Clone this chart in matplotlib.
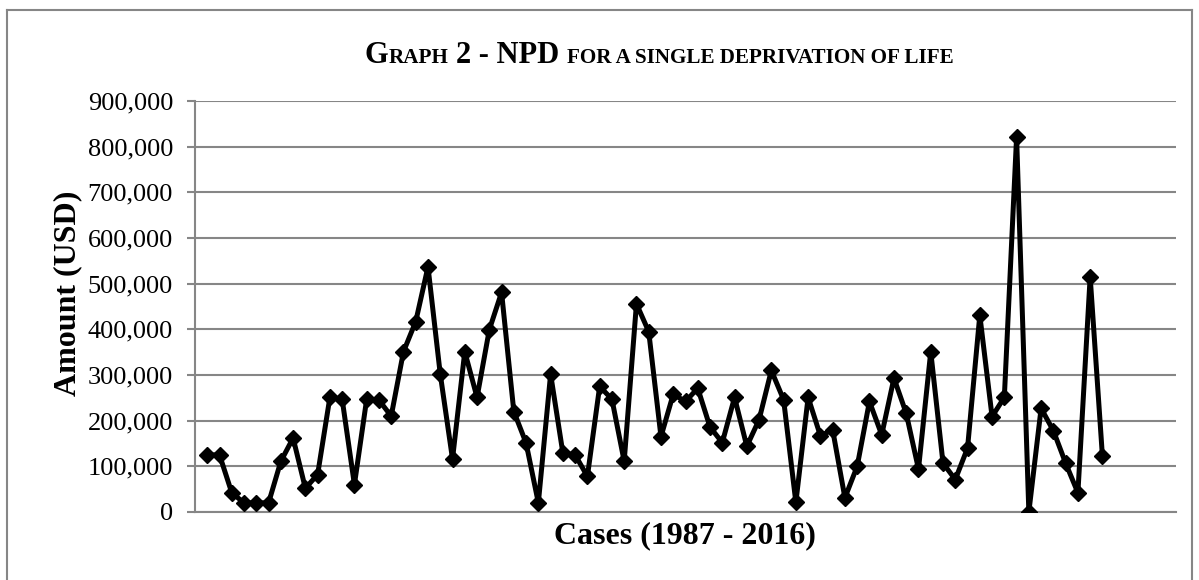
import numpy as np
import matplotlib
matplotlib.use("Agg")
import matplotlib.pyplot as plt
from matplotlib.ticker import FuncFormatter
from matplotlib.lines import Line2D

# datos (USD por caso)
montos = [125000, 125000, 42000, 20000, 20000, 20000, 111000, 162000, 52000, 82000,
          251000, 247000, 60000, 247000, 245000, 210000, 351000, 417000, 537000, 302000,
          116000, 351000, 251000, 399000, 481000, 220000, 151000, 20000, 302000, 129000,
          125000, 78000, 275000, 247000, 111000, 456000, 395000, 165000, 258000, 242000,
          271000, 186000, 152000, 251000, 144000, 202000, 310000, 246000, 21000, 251000,
          167000, 180000, 31000, 100000, 242000, 169000, 293000, 216000, 94000, 351000,
          107000, 71000, 140000, 431000, 209000, 251000, 821000, 0, 227000, 178000,
          107000, 42000, 515000, 122000]
casos = np.arange(1, len(montos) + 1)
ticks_y = list(range(0, 900001, 100000))

W, H = 1199, 580
gris = "#868686"
fuente = "Liberation Serif"

fig = plt.figure(figsize=(W / 100, H / 100), dpi=100)

# area del grafico
ax = fig.add_axes([195 / W, (H - 512) / H, (1176 - 195) / W, (512 - 101) / H])
ax.plot(casos, montos, color="black", lw=3.6, marker="D", ms=8, zorder=3)

ax.set_xlim(0, 80)
ax.set_ylim(0, 900000)
ax.set_xticks([])
ax.set_yticks(ticks_y)
ax.yaxis.set_major_formatter(FuncFormatter(lambda v, p: f"{int(v):,}"))
ax.yaxis.grid(True, color=gris, lw=1.5)
ax.set_axisbelow(True)
for s in ["top", "right"]:
    ax.spines[s].set_visible(False)
for s in ["left", "bottom"]:
    ax.spines[s].set_color(gris)
    ax.spines[s].set_linewidth(1.5)
ax.tick_params(axis="y", direction="out", length=5.8, width=1.5, color=gris, pad=10,
               labelsize=19)
for t in ax.get_yticklabels():
    t.set_fontfamily(fuente)

# etiquetas de los ejes
fig.text(68 / W, 1 - 293 / H, "Amount (USD)", rotation=90, ha="center", va="center",
         fontsize=23, fontweight="bold", family=fuente)
fig.text(685 / W, 1 - 536 / H, "Cases (1987 - 2016)", ha="center", va="center",
         fontsize=23, fontweight="bold", family=fuente)

# titulo en versalitas: se arma por piezas
grande, chica = 22, 15.2
piezas = [("G", grande), ("RAPH", chica), (" ", grande), ("2 - NPD", grande), (" ", grande),
          ("FOR A SINGLE DEPRIVATION OF LIFE", chica)]
r = fig.canvas.get_renderer()

def ancho(txt, size):
    if txt == " ":
        a = fig.text(0, 0, "a a", fontsize=size, fontweight="bold", family=fuente)
        b = fig.text(0, 0, "aa", fontsize=size, fontweight="bold", family=fuente)
        w = a.get_window_extent(r).width - b.get_window_extent(r).width
        a.remove()
        b.remove()
        return w
    t = fig.text(0, 0, txt, fontsize=size, fontweight="bold", family=fuente)
    w = t.get_window_extent(r).width
    t.remove()
    return w

anchos = [ancho(t, s) for t, s in piezas]
x0 = 659 - sum(anchos) / 2
for (t, s), w in zip(piezas, anchos):
    if t != " ":
        fig.text(x0 / W, 1 - 63 / H, t, fontsize=s, fontweight="bold", family=fuente,
                 ha="left", va="baseline")
    x0 += w

# marco del area del grafico
fig.add_artist(Line2D([7 / W, 7 / W], [0, 1 - 10 / H], color=gris, lw=1.5))
fig.add_artist(Line2D([7 / W, 1192 / W], [1 - 10 / H, 1 - 10 / H], color=gris, lw=1.5))
fig.add_artist(Line2D([1192 / W, 1192 / W], [0, 1 - 10 / H], color=gris, lw=1.5))

fig.savefig("out.png", dpi=100)
